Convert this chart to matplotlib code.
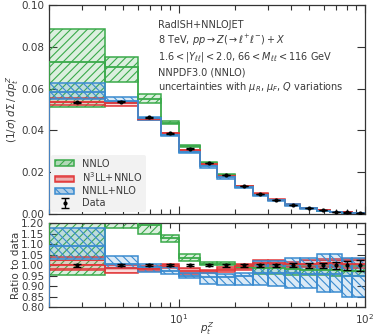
import numpy as np
import matplotlib
matplotlib.use("Agg")
import matplotlib.pyplot as plt
from matplotlib.patches import Patch
from matplotlib.ticker import NullFormatter, FuncFormatter

# ---------------- data ----------------
bin_edges = [2, 4, 6, 8, 10, 13, 16, 20, 25, 30, 37, 45, 55, 65, 75, 85, 105]
data_values = [0.0534, 0.0537, 0.0462, 0.0387, 0.0312, 0.0244, 0.0187, 0.0135,
               0.0096, 0.0068, 0.0045, 0.0028, 0.0017, 0.0011, 0.00072, 0.00043]
data_rel_err = [0.006, 0.005, 0.005, 0.005, 0.005, 0.005, 0.006, 0.006,
                0.007, 0.008, 0.009, 0.011, 0.013, 0.016, 0.02, 0.025]

# theory / data ratios (lo, central, hi)
nnlo_lo = [0.955, 1.177, 1.148, 1.112, 1.021, 1.000, 1.000, 0.985,
           0.960, 0.960, 0.955, 0.955, 0.955, 0.950, 0.950, 0.950]
nnlo_c = [1.360, 1.310, 1.190, 1.128, 1.037, 1.008, 1.008, 0.992,
          0.987, 0.985, 0.983, 0.980, 0.980, 0.977, 0.975, 0.972]
nnlo_hi = [1.660, 1.400, 1.245, 1.145, 1.053, 1.018, 1.018, 1.000,
           1.000, 1.000, 0.998, 0.995, 0.995, 0.995, 0.995, 0.995]

n3ll_lo = [0.978, 0.963, 0.975, 0.985, 0.960, 0.965, 0.968, 0.980,
           0.990, 0.990, 0.990, 0.990, 0.990, 0.990, 0.985, 0.985]
n3ll_c = [1.000, 0.987, 0.983, 0.998, 0.975, 0.972, 0.980, 0.995,
          1.010, 1.010, 1.005, 1.005, 1.010, 1.010, 1.005, 1.005]
n3ll_hi = [1.040, 1.000, 0.995, 1.005, 0.985, 0.980, 0.990, 1.006,
           1.027, 1.027, 1.018, 1.025, 1.030, 1.030, 1.030, 1.030]

nnll_lo = [1.030, 0.985, 0.970, 0.960, 0.938, 0.910, 0.907, 0.905,
           0.905, 0.900, 0.890, 0.890, 0.875, 0.875, 0.851, 0.851]
nnll_c = [1.093, 1.005, 0.990, 0.975, 0.950, 0.945, 0.945, 0.950,
          0.965, 0.962, 0.962, 0.960, 0.960, 0.960, 0.950, 0.950]
nnll_hi = [1.177, 1.045, 1.005, 0.990, 0.962, 0.963, 0.960, 0.965,
           1.020, 1.020, 1.034, 1.037, 1.053, 1.053, 1.034, 1.034]

series_names = ["NNLO", "N$^3$LL+NNLO", "NNLL+NLO"]
series_colors = ["#3aaa4a", "#e2383a", "#3a8bd0"]
series_hatches = ["////", "----", "\\\\\\\\"]

# ---------------- figure ----------------
plt.rcParams["font.family"] = ["DejaVu Sans"]
plt.rcParams["hatch.linewidth"] = 0.8
text_color = "#3a3a3a"

fig = plt.figure(figsize=(3.75, 3.36), dpi=100)
ax1 = fig.add_axes([0.1307, 0.3631, 0.8426, 0.6220])
ax2 = fig.add_axes([0.1307, 0.0854, 0.8426, 0.2500])

edges = np.array(bin_edges, dtype=float)
left = edges[:-1]
width = np.diff(edges)
centers = np.sqrt(edges[:-1] * edges[1:])
data = np.array(data_values)
derr = data * np.array(data_rel_err)

bands = [(nnlo_lo, nnlo_c, nnlo_hi), (n3ll_lo, n3ll_c, n3ll_hi), (nnll_lo, nnll_c, nnll_hi)]

for ax, scale in ((ax1, data), (ax2, np.ones_like(data))):
    for (lo, c, hi), col, hat in zip(bands, series_colors, series_hatches):
        lo = np.array(lo) * scale
        hi = np.array(hi) * scale
        c = np.array(c) * scale
        ax.bar(left, hi - lo, bottom=lo, width=width, align="edge",
               facecolor=matplotlib.colors.to_rgba(col, 0.18),
               edgecolor=col, hatch=hat, linewidth=1.1, zorder=2)
        ax.stairs(c, edges, color=col, linewidth=1.3, zorder=3)
    if ax is ax1:
        ax.errorbar(centers, data, yerr=derr, fmt="o", ms=2, color="black",
                    capsize=3, elinewidth=1, capthick=1, zorder=5, label="Data")
    else:
        ax.errorbar(centers, np.ones_like(data), yerr=np.array(data_rel_err), fmt="o",
                    ms=2, color="black", capsize=3, elinewidth=1, capthick=1, zorder=5)

for ax in (ax1, ax2):
    ax.set_xscale("log")
    ax.set_xlim(2, 100)
    ax.tick_params(which="both", direction="in", top=True, right=True,
                   colors="#333333", labelcolor=text_color, labelsize=7.5)
    ax.tick_params(which="major", length=6, width=0.8)
    ax.tick_params(which="minor", length=3.5, width=0.8)
    for s in ax.spines.values():
        s.set_color("#333333")
        s.set_linewidth(0.9)

ax1.set_ylim(0, 0.10)
ax1.set_yticks([0.0, 0.02, 0.04, 0.06, 0.08, 0.10])
ax1.yaxis.set_major_formatter(FuncFormatter(lambda v, p: f"{v:.2f}"))
ax1.xaxis.set_major_formatter(NullFormatter())
ax1.xaxis.set_minor_formatter(NullFormatter())

ax2.set_ylim(0.80, 1.20)
ax2.set_yticks(np.arange(0.80, 1.2001, 0.05))
ax2.yaxis.set_major_formatter(FuncFormatter(lambda v, p: f"{v:.2f}"))
ax2.xaxis.set_minor_formatter(NullFormatter())

ax1.set_ylabel(r"$(1/\sigma)\, d\Sigma\, /\, dp_t^Z$", fontsize=7.5, color=text_color)
ax2.set_ylabel("Ratio to data", fontsize=7.5, color=text_color)
ax2.set_xlabel(r"$p_t^Z$", fontsize=7.5, color=text_color)
ax1.yaxis.set_label_coords(-0.09, 0.5)
ax2.yaxis.set_label_coords(-0.09, 0.5)
ax2.xaxis.set_label_coords(0.5, -0.15)

ax1.text(0.345, 0.93, "RadISH+NNLOJET\n8 TeV, $pp \\to Z(\\to \\ell^{+}\\ell^{-}) + X$\n"
         "$1.6 < |Y_{\\ell\\ell}| < 2.0$, $66 < M_{\\ell\\ell} < 116$ GeV",
         transform=ax1.transAxes, fontsize=7, color=text_color, va="top",
         linespacing=1.25)
ax1.text(0.345, 0.70, "NNPDF3.0 (NNLO)\nuncertainties with $\\mu_R$, $\\mu_F$, $Q$ variations",
         transform=ax1.transAxes, fontsize=7, color=text_color, va="top",
         linespacing=1.25)

handles = [Patch(facecolor=matplotlib.colors.to_rgba(col, 0.35), edgecolor=col,
                 hatch=hat, linewidth=1.1)
           for col, hat in zip(series_colors, series_hatches)]
eb_handle = ax1.get_legend_handles_labels()[0][0]
leg = ax1.legend(handles + [eb_handle], series_names + ["Data"], loc="lower left",
                 fontsize=7, frameon=True, facecolor="#f2f2f2", edgecolor="none",
                 framealpha=1, handlelength=2.0, handleheight=0.6,
                 borderpad=0.4, labelspacing=0.2, borderaxespad=0.2)
for t in leg.get_texts():
    t.set_color(text_color)

fig.savefig("out.png", dpi=100)
